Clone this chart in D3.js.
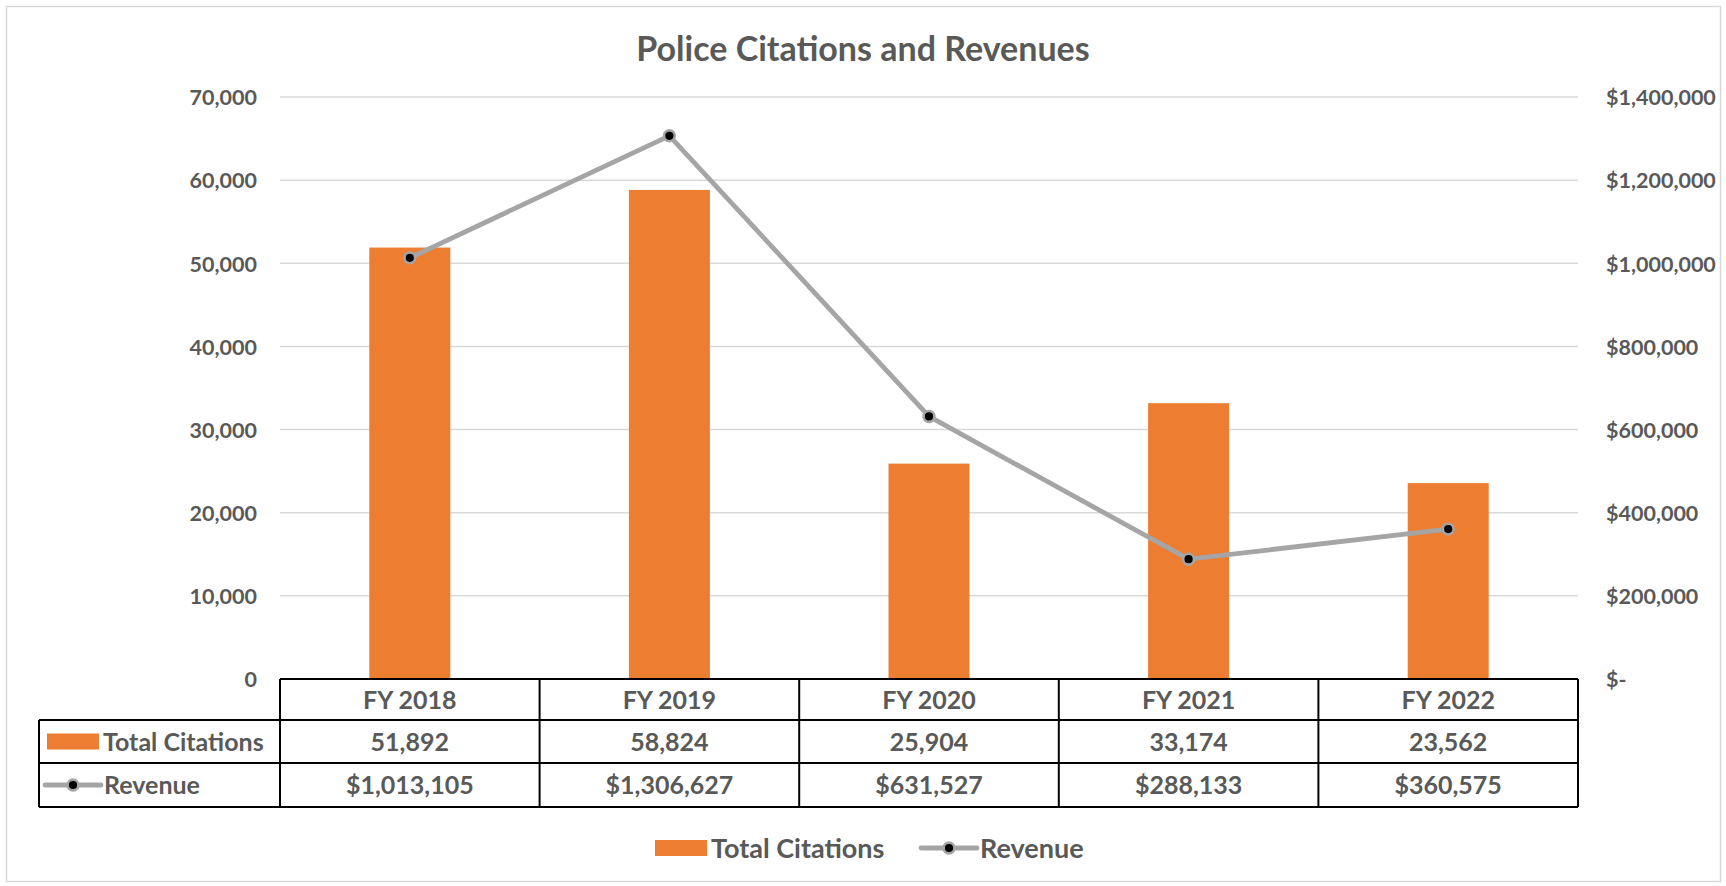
<!DOCTYPE html>
<html>
<head>
<meta charset="utf-8">
<script src="https://cdn.jsdelivr.net/npm/d3@7"></script>
<style>
  body { margin: 0; background: #fff; }
  text { font-family: Lato, "Open Sans", sans-serif; font-weight: bold; fill: #595959; }
</style>
</head>
<body>
<div id="chart"></div>
<script>
// data
var years = ["FY 2018", "FY 2019", "FY 2020", "FY 2021", "FY 2022"];
var citations = [51892, 58824, 25904, 33174, 23562];
var revenue = [1013105, 1306627, 631527, 288133, 360575];
var citationTicks = [0, 10000, 20000, 30000, 40000, 50000, 60000, 70000];
var revenueTicks = [0, 200000, 400000, 600000, 800000, 1000000, 1200000, 1400000];

var W = 1726, H = 886;
var plot = {left: 280, right: 1578, top: 97, bottom: 679};
var tableLeft = 39;
var rowLines = [679, 720, 763, 807];
var barColor = "#ED7D31", lineColor = "#A5A5A5";
var tickSize = 21.5, tableSize = 25, legendSize = 27;

var svg = d3.select("#chart").append("svg")
    .attr("width", W)
    .attr("height", H);

// outer chart border
svg.append("rect")
    .attr("x", 6.5).attr("y", 6.5)
    .attr("width", 1714).attr("height", 875)
    .attr("fill", "#fff")
    .attr("stroke", "#D9D9D9")
    .attr("stroke-width", 1.5);

var x = d3.scaleBand()
    .domain(years)
    .range([plot.left, plot.right])
    .paddingInner(0.688)
    .paddingOuter(0.344);

var xCol = d3.scaleBand()
    .domain(years)
    .range([plot.left, plot.right]);

var y = d3.scaleLinear()
    .domain([0, 70000])
    .range([plot.bottom, plot.top]);

var y2 = d3.scaleLinear()
    .domain([0, 1400000])
    .range([plot.bottom, plot.top]);

// title
svg.append("text")
    .attr("x", 863)
    .attr("y", 61)
    .attr("text-anchor", "middle")
    .style("font-size", "34px")
    .text("Police Citations and Revenues");

// gridlines
svg.append("g")
    .selectAll("line")
    .data(citationTicks.filter(function(d) { return d > 0; }))
    .enter()
    .append("line")
    .attr("x1", plot.left)
    .attr("x2", plot.right)
    .attr("y1", function(d) { return y(d); })
    .attr("y2", function(d) { return y(d); })
    .attr("stroke", "#D9D9D9")
    .attr("stroke-width", 1.5);

// left axis
var yAxis = d3.axisLeft(y)
    .tickValues(citationTicks)
    .tickSize(0)
    .tickPadding(0)
    .tickFormat(function(d) { return d === 0 ? "0" : d3.format(",")(d); });

var gy = svg.append("g")
    .attr("transform", "translate(257,0)")
    .call(yAxis);
gy.select(".domain").remove();
gy.selectAll("text")
    .style("font-size", tickSize + "px")
    .attr("fill", "#595959")
    .attr("dy", "0.36em");

// right axis
var yAxis2 = d3.axisRight(y2)
    .tickValues(revenueTicks)
    .tickSize(0)
    .tickPadding(0)
    .tickFormat(function(d) { return d === 0 ? "$-" : "$" + d3.format(",")(d); });

var gy2 = svg.append("g")
    .attr("transform", "translate(1606,0)")
    .call(yAxis2);
gy2.select(".domain").remove();
gy2.selectAll("text")
    .style("font-size", tickSize + "px")
    .attr("fill", "#595959")
    .attr("dy", "0.36em");

// bars
svg.append("g")
    .selectAll("rect")
    .data(citations)
    .enter()
    .append("rect")
    .attr("x", function(d, i) { return x(years[i]); })
    .attr("y", function(d) { return y(d); })
    .attr("width", x.bandwidth())
    .attr("height", function(d) { return y(0) - y(d); })
    .attr("fill", barColor);

// revenue line
var line = d3.line()
    .x(function(d, i) { return xCol(years[i]) + xCol.bandwidth() / 2; })
    .y(function(d) { return y2(d); });

svg.append("path")
    .datum(revenue)
    .attr("d", line)
    .attr("fill", "none")
    .attr("stroke", lineColor)
    .attr("stroke-width", 4.8)
    .attr("stroke-linejoin", "round");

svg.append("g")
    .selectAll("circle")
    .data(revenue)
    .enter()
    .append("circle")
    .attr("cx", function(d, i) { return xCol(years[i]) + xCol.bandwidth() / 2; })
    .attr("cy", function(d) { return y2(d); })
    .attr("r", 5.4)
    .attr("fill", "#000")
    .attr("stroke", lineColor)
    .attr("stroke-width", 2.6);

// data table
var table = svg.append("g")
    .attr("stroke", "#000")
    .attr("stroke-width", 2)
    .attr("fill", "none");

table.append("line")
    .attr("x1", plot.left).attr("x2", plot.right)
    .attr("y1", rowLines[0]).attr("y2", rowLines[0]);
rowLines.slice(1).forEach(function(r) {
    table.append("line")
        .attr("x1", tableLeft).attr("x2", plot.right)
        .attr("y1", r).attr("y2", r);
});
table.append("line")
    .attr("x1", tableLeft).attr("x2", tableLeft)
    .attr("y1", rowLines[1]).attr("y2", rowLines[3]);
years.concat(["end"]).forEach(function(yr, i) {
    var xx = i < years.length ? xCol(yr) : plot.right;
    table.append("line")
        .attr("x1", xx).attr("x2", xx)
        .attr("y1", rowLines[0]).attr("y2", rowLines[3]);
});

function rowMid(k) { return (rowLines[k] + rowLines[k + 1]) / 2; }

var rows = [
    years,
    citations.map(d3.format(",")),
    revenue.map(function(d) { return "$" + d3.format(",")(d); })
];
rows.forEach(function(row, k) {
    svg.append("g")
        .selectAll("text")
        .data(row)
        .enter()
        .append("text")
        .attr("x", function(d, i) { return xCol(years[i]) + xCol.bandwidth() / 2; })
        .attr("y", rowMid(k))
        .attr("dy", "0.36em")
        .attr("text-anchor", "middle")
        .style("font-size", tableSize + "px")
        .text(function(d) { return d; });
});

// legend keys (in the table and underneath)
function barKey(g, kx, ky, label, size) {
    g.append("rect")
        .attr("x", kx).attr("y", ky - 8)
        .attr("width", 52).attr("height", 16)
        .attr("fill", barColor);
    g.append("text")
        .attr("x", kx + 56).attr("y", ky)
        .attr("dy", "0.36em")
        .style("font-size", size + "px")
        .text(label);
}
function lineKey(g, kx, ky, label, size) {
    g.append("line")
        .attr("x1", kx).attr("x2", kx + 56)
        .attr("y1", ky).attr("y2", ky)
        .attr("stroke", lineColor)
        .attr("stroke-width", 4.8)
        .attr("stroke-linecap", "round");
    g.append("circle")
        .attr("cx", kx + 28).attr("cy", ky)
        .attr("r", 5.4)
        .attr("fill", "#000")
        .attr("stroke", lineColor)
        .attr("stroke-width", 2.6);
    g.append("text")
        .attr("x", kx + 59).attr("y", ky)
        .attr("dy", "0.36em")
        .style("font-size", size + "px")
        .text(label);
}

var keys = svg.append("g");
barKey(keys, 47, rowMid(1), "Total Citations", tableSize);
lineKey(keys, 45, rowMid(2), "Revenue", tableSize);

var legend = svg.append("g");
barKey(legend, 655, 848, "Total Citations", legendSize);
lineKey(legend, 921, 848, "Revenue", legendSize);
</script>
</body>
</html>
